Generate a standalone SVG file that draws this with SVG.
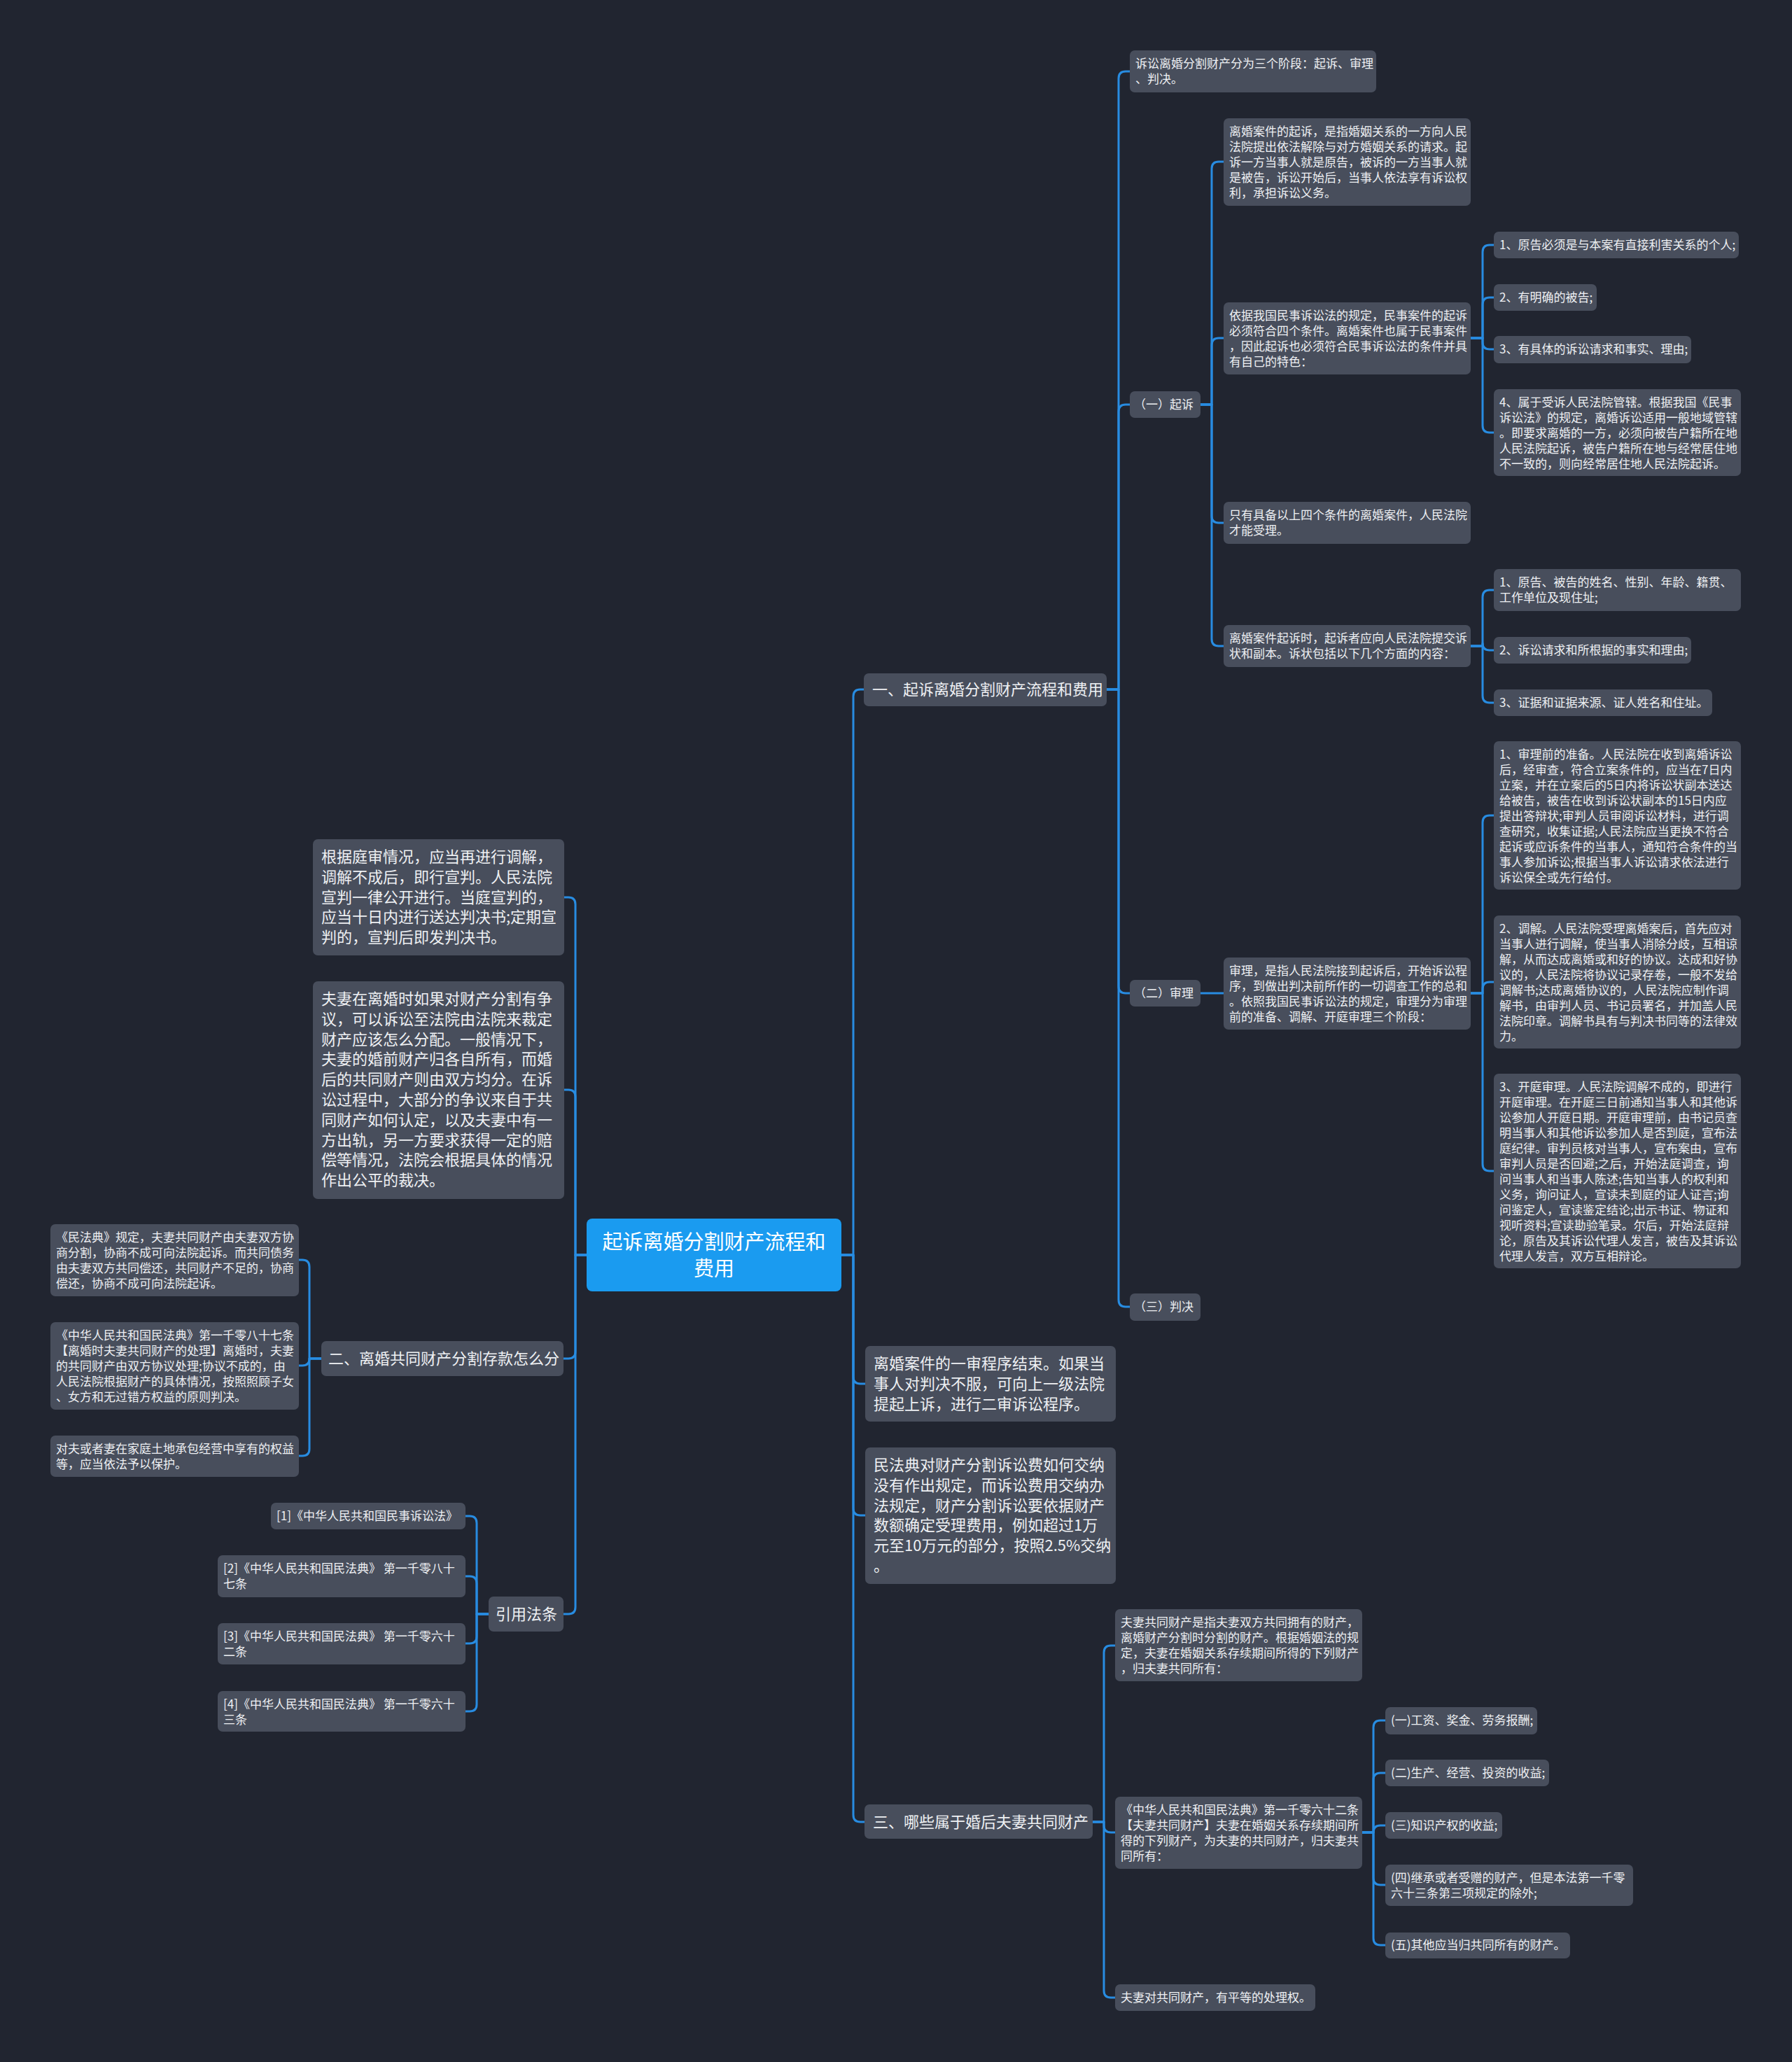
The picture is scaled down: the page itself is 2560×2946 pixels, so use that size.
<svg xmlns="http://www.w3.org/2000/svg" width="2560" height="2946" viewBox="0 0 2560 2946">
<style>
.n{fill:#484e5c}
.r{fill:#1a9bf0}
.t{font-family:"Noto Sans CJK SC","Noto Sans",sans-serif;fill:#eef0f3;font-size:17px}
.tl{font-size:22px}
.tr{font-size:29px;fill:#ffffff;text-anchor:middle}
.c{fill:none;stroke:#288ce1;stroke-width:3;stroke-linejoin:round}
</style>
<rect x="0" y="0" width="2560" height="2946" fill="#212530"/>
<g id="connectors">
<path class="c" d="M1202,1793 H1219 V995 Q1219,985 1229,985 H1234"/>
<path class="c" d="M1202,1793 H1219 V1967 Q1219,1977 1229,1977 H1236"/>
<path class="c" d="M1202,1793 H1219 V2155 Q1219,2165 1229,2165 H1236"/>
<path class="c" d="M1202,1793 H1219 V2593 Q1219,2603 1229,2603 H1235"/>
<path class="c" d="M838,1793 H822 V1292 Q822,1282 812,1282 H806"/>
<path class="c" d="M838,1793 H822 V1567 Q822,1557 812,1557 H806"/>
<path class="c" d="M838,1793 H822 V1931 Q822,1941 812,1941 H805"/>
<path class="c" d="M838,1793 H822 V2296 Q822,2306 812,2306 H805"/>
<path class="c" d="M1581,985 H1598 V112 Q1598,102 1608,102 H1614"/>
<path class="c" d="M1581,985 H1598 V588 Q1598,578 1608,578 H1614"/>
<path class="c" d="M1581,985 H1598 V1409 Q1598,1419 1608,1419 H1614"/>
<path class="c" d="M1581,985 H1598 V1857 Q1598,1867 1608,1867 H1614"/>
<path class="c" d="M1715,578 H1731 V241 Q1731,231 1741,231 H1748"/>
<path class="c" d="M1715,578 H1731 V493 Q1731,483 1741,483 H1748"/>
<path class="c" d="M1715,578 H1731 V737 Q1731,747 1741,747 H1748"/>
<path class="c" d="M1715,578 H1731 V913 Q1731,923 1741,923 H1748"/>
<path class="c" d="M2101,483 H2118 V360 Q2118,350 2128,350 H2134"/>
<path class="c" d="M2101,483 H2118 V435 Q2118,425 2128,425 H2134"/>
<path class="c" d="M2101,483 H2118 V489 Q2118,499 2128,499 H2134"/>
<path class="c" d="M2101,483 H2118 V608 Q2118,618 2128,618 H2134"/>
<path class="c" d="M2101,923 H2118 V853 Q2118,843 2128,843 H2134"/>
<path class="c" d="M2101,923 H2118 V919 Q2118,929 2128,929 H2134"/>
<path class="c" d="M2101,923 H2118 V994 Q2118,1004 2128,1004 H2134"/>
<path class="c" d="M1715,1419 H1748"/>
<path class="c" d="M2101,1419 H2118 V1175 Q2118,1165 2128,1165 H2134"/>
<path class="c" d="M2101,1419 H2118 V1413 Q2118,1403 2128,1403 H2134"/>
<path class="c" d="M2101,1419 H2118 V1663 Q2118,1673 2128,1673 H2134"/>
<path class="c" d="M1561,2603 H1577 V2361 Q1577,2351 1587,2351 H1593"/>
<path class="c" d="M1561,2603 H1577 V2608 Q1577,2618 1587,2618 H1593"/>
<path class="c" d="M1561,2603 H1577 V2844 Q1577,2854 1587,2854 H1593"/>
<path class="c" d="M1946,2618 H1962 V2468 Q1962,2458 1972,2458 H1979"/>
<path class="c" d="M1946,2618 H1962 V2543 Q1962,2533 1972,2533 H1979"/>
<path class="c" d="M1946,2618 H1962 Q1962,2608 1972,2608 H1979"/>
<path class="c" d="M1946,2618 H1962 V2683 Q1962,2693 1972,2693 H1979"/>
<path class="c" d="M1946,2618 H1962 V2769 Q1962,2779 1972,2779 H1979"/>
<path class="c" d="M459,1941 H442 V1810 Q442,1800 432,1800 H427"/>
<path class="c" d="M459,1941 H442 Q442,1951 432,1951 H427"/>
<path class="c" d="M459,1941 H442 V2070 Q442,2080 432,2080 H427"/>
<path class="c" d="M698,2306 H681 V2176 Q681,2166 671,2166 H665"/>
<path class="c" d="M698,2306 H681 V2262 Q681,2252 671,2252 H665"/>
<path class="c" d="M698,2306 H681 V2338 Q681,2348 671,2348 H665"/>
<path class="c" d="M698,2306 H681 V2435 Q681,2445 671,2445 H665"/>
</g>

<g id="root"><rect class="r" x="838" y="1741" width="364" height="104" rx="8"/>
<text class="t tr" x="1020" y="1785">起诉离婚分割财产流程和</text><text class="t tr" x="1020" y="1823">费用</text></g>

<g id="n1"><rect class="n" x="1234" y="962" width="347" height="47" rx="7"/>
<text class="t tl" x="1246" y="993">一、起诉离婚分割财产流程和费用</text></g>

<g id="n1a"><rect class="n" x="1614" y="72" width="352" height="60" rx="7"/>
<text class="t" x="1622" y="97">诉讼离婚分割财产分为三个阶段：起诉、审理</text><text class="t" x="1622" y="119">、判决。</text></g>

<g id="n1b"><rect class="n" x="1614" y="559" width="101" height="38" rx="7"/>
<text class="t" x="1620" y="584">（一）起诉</text></g>

<g id="n1b1"><rect class="n" x="1748" y="169" width="353" height="125" rx="7"/>
<text class="t" x="1756" y="194">离婚案件的起诉，是指婚姻关系的一方向人民</text>
<text class="t" x="1756" y="216">法院提出依法解除与对方婚姻关系的请求。起</text>
<text class="t" x="1756" y="238">诉一方当事人就是原告，被诉的一方当事人就</text>
<text class="t" x="1756" y="260">是被告，诉讼开始后，当事人依法享有诉讼权</text>
<text class="t" x="1756" y="282">利，承担诉讼义务。</text></g>

<g id="n1b2"><rect class="n" x="1748" y="432" width="353" height="103" rx="7"/>
<text class="t" x="1756" y="457">依据我国民事诉讼法的规定，民事案件的起诉</text>
<text class="t" x="1756" y="479">必须符合四个条件。离婚案件也属于民事案件</text>
<text class="t" x="1756" y="501">，因此起诉也必须符合民事诉讼法的条件并具</text>
<text class="t" x="1756" y="523">有自己的特色：</text></g>

<g id="c1"><rect class="n" x="2134" y="331" width="350" height="38" rx="7"/>
<text class="t" x="2142" y="356">1、原告必须是与本案有直接利害关系的个人;</text></g>
<g id="c2"><rect class="n" x="2134" y="406" width="147" height="38" rx="7"/>
<text class="t" x="2142" y="431">2、有明确的被告;</text></g>
<g id="c3"><rect class="n" x="2134" y="480" width="282" height="39" rx="7"/>
<text class="t" x="2142" y="505">3、有具体的诉讼请求和事实、理由;</text></g>
<g id="c4"><rect class="n" x="2134" y="556" width="353" height="124" rx="7"/>
<text class="t" x="2142" y="581">4、属于受诉人民法院管辖。根据我国《民事</text>
<text class="t" x="2142" y="603">诉讼法》的规定，离婚诉讼适用一般地域管辖</text>
<text class="t" x="2142" y="625">。即要求离婚的一方，必须向被告户籍所在地</text>
<text class="t" x="2142" y="647">人民法院起诉，被告户籍所在地与经常居住地</text>
<text class="t" x="2142" y="669">不一致的，则向经常居住地人民法院起诉。</text></g>

<g id="n1b3"><rect class="n" x="1748" y="717" width="353" height="60" rx="7"/>
<text class="t" x="1756" y="742">只有具备以上四个条件的离婚案件，人民法院</text>
<text class="t" x="1756" y="764">才能受理。</text></g>

<g id="n1b4"><rect class="n" x="1748" y="893" width="353" height="60" rx="7"/>
<text class="t" x="1756" y="918">离婚案件起诉时，起诉者应向人民法院提交诉</text>
<text class="t" x="1756" y="940">状和副本。诉状包括以下几个方面的内容：</text></g>

<g id="d1"><rect class="n" x="2134" y="813" width="353" height="60" rx="7"/>
<text class="t" x="2142" y="838">1、原告、被告的姓名、性别、年龄、籍贯、</text>
<text class="t" x="2142" y="860">工作单位及现住址;</text></g>
<g id="d2"><rect class="n" x="2134" y="910" width="282" height="38" rx="7"/>
<text class="t" x="2142" y="935">2、诉讼请求和所根据的事实和理由;</text></g>
<g id="d3"><rect class="n" x="2134" y="985" width="312" height="38" rx="7"/>
<text class="t" x="2142" y="1010">3、证据和证据来源、证人姓名和住址。</text></g>

<g id="n1c"><rect class="n" x="1614" y="1400" width="101" height="38" rx="7"/>
<text class="t" x="1620" y="1425">（二）审理</text></g>

<g id="n1c1"><rect class="n" x="1748" y="1368" width="353" height="103" rx="7"/>
<text class="t" x="1756" y="1393">审理，是指人民法院接到起诉后，开始诉讼程</text>
<text class="t" x="1756" y="1415">序，到做出判决前所作的一切调查工作的总和</text>
<text class="t" x="1756" y="1437">。依照我国民事诉讼法的规定，审理分为审理</text>
<text class="t" x="1756" y="1459">前的准备、调解、开庭审理三个阶段：</text></g>

<g id="e1"><rect class="n" x="2134" y="1059" width="353" height="212" rx="7"/>
<text class="t" x="2142" y="1084">1、审理前的准备。人民法院在收到离婚诉讼</text>
<text class="t" x="2142" y="1106">后，经审查，符合立案条件的，应当在7日内</text>
<text class="t" x="2142" y="1128">立案，并在立案后的5日内将诉讼状副本送达</text>
<text class="t" x="2142" y="1150">给被告，被告在收到诉讼状副本的15日内应</text>
<text class="t" x="2142" y="1172">提出答辩状;审判人员审阅诉讼材料，进行调</text>
<text class="t" x="2142" y="1194">查研究，收集证据;人民法院应当更换不符合</text>
<text class="t" x="2142" y="1216">起诉或应诉条件的当事人，通知符合条件的当</text>
<text class="t" x="2142" y="1238">事人参加诉讼;根据当事人诉讼请求依法进行</text>
<text class="t" x="2142" y="1260">诉讼保全或先行给付。</text></g>

<g id="e2"><rect class="n" x="2134" y="1308" width="353" height="190" rx="7"/>
<text class="t" x="2142" y="1333">2、调解。人民法院受理离婚案后，首先应对</text>
<text class="t" x="2142" y="1355">当事人进行调解，使当事人消除分歧，互相谅</text>
<text class="t" x="2142" y="1377">解，从而达成离婚或和好的协议。达成和好协</text>
<text class="t" x="2142" y="1399">议的，人民法院将协议记录存卷，一般不发给</text>
<text class="t" x="2142" y="1421">调解书;达成离婚协议的，人民法院应制作调</text>
<text class="t" x="2142" y="1443">解书，由审判人员、书记员署名，并加盖人民</text>
<text class="t" x="2142" y="1465">法院印章。调解书具有与判决书同等的法律效</text>
<text class="t" x="2142" y="1487">力。</text></g>

<g id="e3"><rect class="n" x="2134" y="1534" width="353" height="278" rx="7"/>
<text class="t" x="2142" y="1559">3、开庭审理。人民法院调解不成的，即进行</text>
<text class="t" x="2142" y="1581">开庭审理。在开庭三日前通知当事人和其他诉</text>
<text class="t" x="2142" y="1603">讼参加人开庭日期。开庭审理前，由书记员查</text>
<text class="t" x="2142" y="1625">明当事人和其他诉讼参加人是否到庭，宣布法</text>
<text class="t" x="2142" y="1647">庭纪律。审判员核对当事人，宣布案由，宣布</text>
<text class="t" x="2142" y="1669">审判人员是否回避;之后，开始法庭调查，询</text>
<text class="t" x="2142" y="1691">问当事人和当事人陈述;告知当事人的权利和</text>
<text class="t" x="2142" y="1713">义务，询问证人，宣读未到庭的证人证言;询</text>
<text class="t" x="2142" y="1735">问鉴定人，宣读鉴定结论;出示书证、物证和</text>
<text class="t" x="2142" y="1757">视听资料;宣读勘验笔录。尔后，开始法庭辩</text>
<text class="t" x="2142" y="1779">论，原告及其诉讼代理人发言，被告及其诉讼</text>
<text class="t" x="2142" y="1801">代理人发言，双方互相辩论。</text></g>

<g id="n1d"><rect class="n" x="1614" y="1848" width="101" height="39" rx="7"/>
<text class="t" x="1620" y="1873">（三）判决</text></g>

<g id="n2"><rect class="n" x="1236" y="1923" width="358" height="108" rx="7"/>
<text class="t tl" x="1248" y="1956">离婚案件的一审程序结束。如果当</text>
<text class="t tl" x="1248" y="1984.8">事人对判决不服，可向上一级法院</text>
<text class="t tl" x="1248" y="2013.6">提起上诉，进行二审诉讼程序。</text></g>

<g id="n3"><rect class="n" x="1236" y="2068" width="358" height="195" rx="7"/>
<text class="t tl" x="1248" y="2101">民法典对财产分割诉讼费如何交纳</text>
<text class="t tl" x="1248" y="2129.8">没有作出规定，而诉讼费用交纳办</text>
<text class="t tl" x="1248" y="2158.6">法规定，财产分割诉讼要依据财产</text>
<text class="t tl" x="1248" y="2187.4">数额确定受理费用，例如超过1万</text>
<text class="t tl" x="1248" y="2216.2">元至10万元的部分，按照2.5%交纳</text>
<text class="t tl" x="1248" y="2245">。</text></g>

<g id="n4"><rect class="n" x="1235" y="2578" width="326" height="49" rx="7"/>
<text class="t tl" x="1247" y="2611">三、哪些属于婚后夫妻共同财产</text></g>

<g id="f1"><rect class="n" x="1593" y="2299" width="353" height="103" rx="7"/>
<text class="t" x="1601" y="2324">夫妻共同财产是指夫妻双方共同拥有的财产，</text>
<text class="t" x="1601" y="2346">离婚财产分割时分割的财产。根据婚姻法的规</text>
<text class="t" x="1601" y="2368">定，夫妻在婚姻关系存续期间所得的下列财产</text>
<text class="t" x="1601" y="2390">，归夫妻共同所有：</text></g>

<g id="f2"><rect class="n" x="1593" y="2567" width="353" height="103" rx="7"/>
<text class="t" x="1601" y="2592">《中华人民共和国民法典》第一千零六十二条</text>
<text class="t" x="1601" y="2614">【夫妻共同财产】夫妻在婚姻关系存续期间所</text>
<text class="t" x="1601" y="2636">得的下列财产，为夫妻的共同财产，归夫妻共</text>
<text class="t" x="1601" y="2658">同所有：</text></g>

<g id="f3"><rect class="n" x="1593" y="2835" width="286" height="38" rx="7"/>
<text class="t" x="1601" y="2860">夫妻对共同财产，有平等的处理权。</text></g>

<g id="g1"><rect class="n" x="1979" y="2439" width="217" height="39" rx="7"/>
<text class="t" x="1987" y="2464">(一)工资、奖金、劳务报酬;</text></g>
<g id="g2"><rect class="n" x="1979" y="2514" width="234" height="38" rx="7"/>
<text class="t" x="1987" y="2539">(二)生产、经营、投资的收益;</text></g>
<g id="g3"><rect class="n" x="1979" y="2589" width="167" height="38" rx="7"/>
<text class="t" x="1987" y="2614">(三)知识产权的收益;</text></g>
<g id="g4"><rect class="n" x="1979" y="2664" width="354" height="59" rx="7"/>
<text class="t" x="1987" y="2689">(四)继承或者受赠的财产，但是本法第一千零</text>
<text class="t" x="1987" y="2711">六十三条第三项规定的除外;</text></g>
<g id="g5"><rect class="n" x="1979" y="2761" width="264" height="37" rx="7"/>
<text class="t" x="1987" y="2785">(五)其他应当归共同所有的财产。</text></g>

<g id="l1"><rect class="n" x="447" y="1199" width="359" height="166" rx="7"/>
<text class="t tl" x="459" y="1232">根据庭审情况，应当再进行调解，</text>
<text class="t tl" x="459" y="1260.8">调解不成后，即行宣判。人民法院</text>
<text class="t tl" x="459" y="1289.6">宣判一律公开进行。当庭宣判的，</text>
<text class="t tl" x="459" y="1318.4">应当十日内进行送达判决书;定期宣</text>
<text class="t tl" x="459" y="1347.2">判的，宣判后即发判决书。</text></g>

<g id="l2"><rect class="n" x="447" y="1402" width="359" height="311" rx="7"/>
<text class="t tl" x="459" y="1435">夫妻在离婚时如果对财产分割有争</text>
<text class="t tl" x="459" y="1463.8">议，可以诉讼至法院由法院来裁定</text>
<text class="t tl" x="459" y="1492.6">财产应该怎么分配。一般情况下，</text>
<text class="t tl" x="459" y="1521.4">夫妻的婚前财产归各自所有，而婚</text>
<text class="t tl" x="459" y="1550.2">后的共同财产则由双方均分。在诉</text>
<text class="t tl" x="459" y="1579">讼过程中，大部分的争议来自于共</text>
<text class="t tl" x="459" y="1607.8">同财产如何认定，以及夫妻中有一</text>
<text class="t tl" x="459" y="1636.6">方出轨，另一方要求获得一定的赔</text>
<text class="t tl" x="459" y="1665.4">偿等情况，法院会根据具体的情况</text>
<text class="t tl" x="459" y="1694.2">作出公平的裁决。</text></g>

<g id="l3"><rect class="n" x="459" y="1916" width="346" height="50" rx="7"/>
<text class="t tl" x="469" y="1949">二、离婚共同财产分割存款怎么分</text></g>

<g id="h1"><rect class="n" x="72" y="1749" width="355" height="103" rx="7"/>
<text class="t" x="80" y="1774">《民法典》规定，夫妻共同财产由夫妻双方协</text>
<text class="t" x="80" y="1796">商分割，协商不成可向法院起诉。而共同债务</text>
<text class="t" x="80" y="1818">由夫妻双方共同偿还，共同财产不足的，协商</text>
<text class="t" x="80" y="1840">偿还，协商不成可向法院起诉。</text></g>

<g id="h2"><rect class="n" x="72" y="1889" width="355" height="125" rx="7"/>
<text class="t" x="80" y="1914">《中华人民共和国民法典》第一千零八十七条</text>
<text class="t" x="80" y="1936">【离婚时夫妻共同财产的处理】离婚时，夫妻</text>
<text class="t" x="80" y="1958">的共同财产由双方协议处理;协议不成的，由</text>
<text class="t" x="80" y="1980">人民法院根据财产的具体情况，按照照顾子女</text>
<text class="t" x="80" y="2002">、女方和无过错方权益的原则判决。</text></g>

<g id="h3"><rect class="n" x="72" y="2051" width="355" height="59" rx="7"/>
<text class="t" x="80" y="2076">对夫或者妻在家庭土地承包经营中享有的权益</text>
<text class="t" x="80" y="2098">等，应当依法予以保护。</text></g>

<g id="l4"><rect class="n" x="698" y="2281" width="107" height="50" rx="7"/>
<text class="t tl" x="708" y="2314">引用法条</text></g>

<g id="i1"><rect class="n" x="387" y="2147" width="278" height="38" rx="7"/>
<text class="t" x="395" y="2172">[1]《中华人民共和国民事诉讼法》</text></g>
<g id="i2"><rect class="n" x="311" y="2222" width="354" height="60" rx="7"/>
<text class="t" x="319" y="2247">[2]《中华人民共和国民法典》 第一千零八十</text>
<text class="t" x="319" y="2269">七条</text></g>
<g id="i3"><rect class="n" x="311" y="2319" width="354" height="59" rx="7"/>
<text class="t" x="319" y="2344">[3]《中华人民共和国民法典》 第一千零六十</text>
<text class="t" x="319" y="2366">二条</text></g>
<g id="i4"><rect class="n" x="311" y="2416" width="354" height="58" rx="7"/>
<text class="t" x="319" y="2441">[4]《中华人民共和国民法典》 第一千零六十</text>
<text class="t" x="319" y="2463">三条</text></g>
</svg>
